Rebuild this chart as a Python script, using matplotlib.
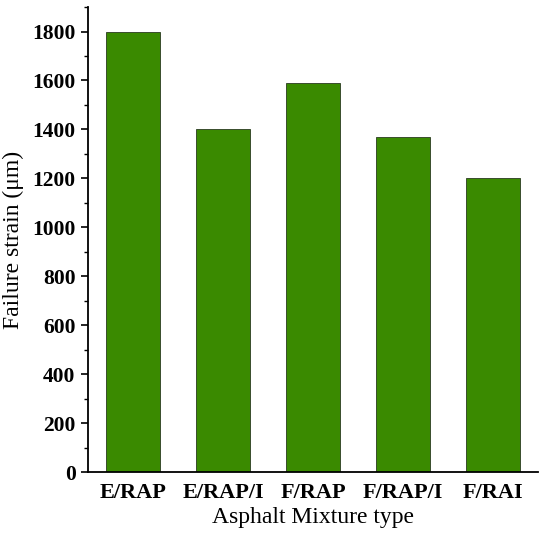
import matplotlib
matplotlib.use('Agg')
import matplotlib.pyplot as plt
from matplotlib.ticker import MultipleLocator

mixtures = ['E/RAP', 'E/RAP/I', 'F/RAP', 'F/RAP/I', 'F/RAI']
strain = [1800, 1400, 1590, 1370, 1200]

plt.rcParams['font.family'] = ['Liberation Serif', 'DejaVu Serif']

fig = plt.figure(figsize=(5.5, 5.42), dpi=100)
ax = fig.add_axes([0.16, 0.129, 0.818, 0.858])

x = range(len(mixtures))
ax.bar(x, strain, width=0.6, color='#3a8a00', edgecolor='#2a3a20', linewidth=0.6)

ax.set_xlim(-0.5, 4.5)
ax.set_ylim(0, 1900)
ax.yaxis.set_major_locator(MultipleLocator(200))
ax.yaxis.set_minor_locator(MultipleLocator(100))
ax.set_xticks(list(x))
ax.set_xticklabels(mixtures, fontsize=16, fontweight='bold')
for lbl in ax.get_yticklabels():
    lbl.set_fontsize(15.5)
    lbl.set_fontweight('bold')
ax.tick_params(axis='x', length=0, pad=8)
ax.tick_params(axis='y', which='major', length=5, width=1.2, direction='out', pad=4)
ax.tick_params(axis='y', which='minor', length=3, width=1.0, direction='out')

for s in ['top', 'right']:
    ax.spines[s].set_visible(False)
for s in ['left', 'bottom']:
    ax.spines[s].set_linewidth(1.3)

ax.set_xlabel('Asphalt Mixture type', fontsize=17, labelpad=3)
ax.set_ylabel('Failure strain (μm)', fontsize=17, labelpad=6)

fig.savefig('out.png', dpi=100)
